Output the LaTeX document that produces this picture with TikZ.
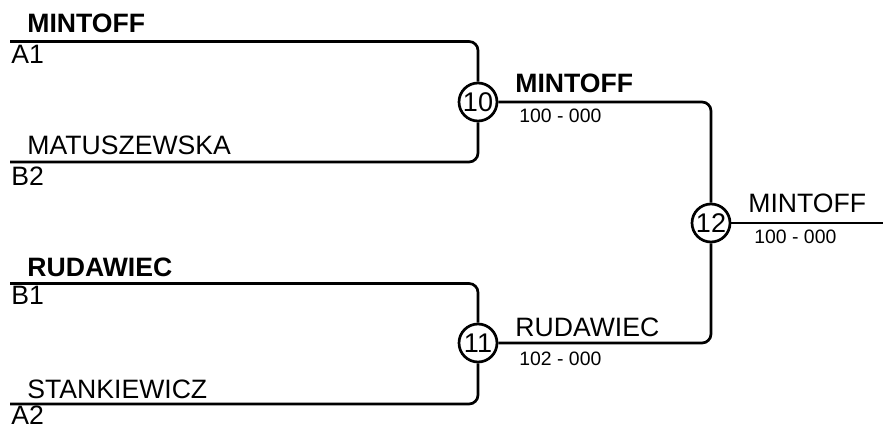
\documentclass[tikz,border=0pt]{standalone}
\usepackage{fontspec}
\setmainfont{Liberation Sans}
\usetikzlibrary{positioning}

\tikzset{
  bracket/.style={line width=1.35pt, rounded corners=4.5pt},
  match/.style={draw, circle, line width=1.35pt, minimum size=19pt, inner sep=0pt,
    font=\fontsize{13.5}{15}\selectfont},
  player/.style={anchor=base west, inner sep=0pt, font=\fontsize{13.3}{15}\selectfont},
  winner/.style={player, font=\fontsize{13.3}{15}\selectfont\bfseries},
  seed/.style={player},
  result/.style={anchor=base west, inner sep=0pt, font=\fontsize{9.7}{12}\selectfont}
}

\begin{document}
\begin{tikzpicture}[x=0.5pt, y=-0.5pt]
\useasboundingbox (0,0) rectangle (883,427);

% match circles
\node[match] (m10) at (478,102) {10};
\node[match] (m11) at (478,343) {11};
\node[match] (m12) at (711,223) {12};

% free ends of the lines
\coordinate (a1) at (10,41.5);
\coordinate (b2) at (10,162);
\coordinate (b1) at (10,283.5);
\coordinate (a2) at (10,404);
\coordinate (fin) at (883,223);

% first round lines
\draw[bracket] (a1) -| (m10);
\draw[bracket] (b2) -| (m10);
\draw[bracket] (b1) -| (m11);
\draw[bracket] (a2) -| (m11);

% second round and final
\draw[bracket] (m10) -| (m12);
\draw[bracket] (m11) -| (m12);
\draw[bracket] (m12) -- (fin);

% players
\node[winner] (p1) at (27,33) {MINTOFF};
\node[player] (p2) at (27,155) {MATUSZEWSKA};
\node[winner] (p3) at (27,277) {RUDAWIEC};
\node[player] (p4) at (27,398) {STANKIEWICZ};

% seeds
\foreach \y/\lab/\nm in {64/A1/sa1, 186/B2/sb2, 305/B1/sb1, 424/A2/sa2}
  \node[seed] (\nm) at (11,\y) {\lab};

% winners and scores
\node[winner] (w10) at (515,93) {MINTOFF};
\node[result] (r10) at (519,123) {100 - 000};
\node[player] (w11) at (515,336) {RUDAWIEC};
\node[result] (r11) at (519,365) {102 - 000};
\node[player] (w12) at (748,213) {MINTOFF};
\node[result] (r12) at (754,243) {100 - 000};

\end{tikzpicture}
\end{document}
